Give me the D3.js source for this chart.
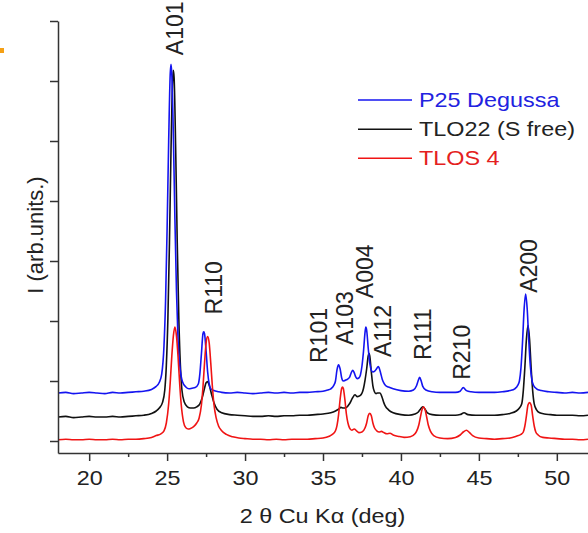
<!DOCTYPE html>
<html>
<head>
<meta charset="utf-8">
<script src="https://cdn.jsdelivr.net/npm/d3@7"></script>
<style>
  html, body { margin: 0; padding: 0; background: #fff; }
  svg { display: block; }
  text { font-family: "Liberation Sans", Arial, Helvetica, sans-serif; }
</style>
</head>
<body>
<svg id="chart" width="588" height="533"></svg>
<script>
// XRD patterns: [2θ (deg), intensity (arb. units)]
const p25Degussa = [
  [18.0,0.80],[18.5,0.81],[19.0,0.79],[19.5,0.80],[20.0,0.81],[20.5,0.80],[21.0,0.79],[21.5,0.81],
  [22.0,0.80],[22.5,0.81],[23.0,0.82],[23.5,0.83],[24.0,0.86],[24.3,0.91],[24.5,0.98],[24.65,1.11],
  [24.8,1.59],[24.9,2.33],[25.0,3.54],[25.1,5.00],[25.2,6.12],[25.25,6.28],[25.3,6.12],[25.4,5.10],
  [25.5,3.70],[25.6,2.50],[25.7,1.70],[25.8,1.30],[25.9,1.08],[26.0,0.98],[26.2,0.90],[26.4,0.87],
  [26.6,0.88],[26.8,0.89],[27.0,0.95],[27.1,1.12],[27.2,1.45],[27.3,1.79],[27.35,1.82],[27.4,1.79],
  [27.5,1.50],[27.6,1.15],[27.7,0.95],[27.8,0.87],[28.0,0.84],[28.3,0.82],[28.5,0.81],[29.0,0.80],
  [29.5,0.81],[30.0,0.80],[30.5,0.79],[31.0,0.80],[31.5,0.81],[32.0,0.80],[32.5,0.81],[33.0,0.80],
  [33.5,0.81],[34.0,0.81],[34.5,0.82],[35.0,0.83],[35.3,0.85],[35.5,0.87],[35.7,0.93],[35.8,1.00],
  [35.9,1.19],[36.0,1.27],[36.1,1.20],[36.2,1.05],[36.3,1.00],[36.5,1.02],[36.7,1.06],[36.8,1.13],
  [36.9,1.18],[37.0,1.14],[37.1,1.07],[37.2,1.04],[37.3,1.05],[37.4,1.10],[37.5,1.25],[37.6,1.50],
  [37.7,1.82],[37.75,1.90],[37.8,1.85],[37.9,1.55],[38.0,1.30],[38.1,1.18],[38.2,1.15],[38.3,1.16],
  [38.4,1.19],[38.5,1.23],[38.55,1.24],[38.6,1.22],[38.7,1.13],[38.8,1.03],[38.9,0.97],[39.0,0.93],
  [39.2,0.90],[39.5,0.87],[40.0,0.84],[40.5,0.83],[40.8,0.85],[41.0,0.92],[41.1,1.00],[41.2,1.06],
  [41.3,1.00],[41.4,0.91],[41.6,0.85],[42.0,0.82],[42.5,0.81],[43.0,0.81],[43.5,0.81],[43.8,0.83],
  [44.0,0.89],[44.2,0.84],[44.5,0.82],[45.0,0.81],[45.5,0.81],[46.0,0.81],[46.5,0.82],[47.0,0.84],
  [47.3,0.87],[47.5,0.93],[47.6,1.00],[47.7,1.22],[47.8,1.65],[47.9,2.19],[48.0,2.45],[48.1,2.20],
  [48.2,1.68],[48.3,1.25],[48.4,1.02],[48.5,0.93],[48.7,0.87],[49.0,0.84],[49.5,0.82],[50.0,0.81],
  [50.5,0.80],[51.0,0.81],[51.5,0.80],[52.0,0.81]
];

const tlo22 = [
  [18.0,0.40],[18.5,0.41],[19.0,0.39],[19.5,0.40],[20.0,0.41],[20.5,0.40],[21.0,0.40],[21.5,0.41],
  [22.0,0.40],[22.5,0.41],[23.0,0.42],[23.5,0.43],[24.0,0.46],[24.3,0.50],[24.5,0.55],[24.7,0.64],
  [24.85,0.85],[24.95,1.26],[25.05,2.04],[25.15,3.30],[25.25,4.85],[25.35,6.00],[25.4,6.18],[25.45,6.05],
  [25.55,4.85],[25.65,3.30],[25.75,2.05],[25.85,1.27],[25.95,0.85],[26.1,0.65],[26.3,0.57],[26.5,0.55],
  [26.7,0.55],[26.9,0.57],[27.1,0.62],[27.25,0.72],[27.4,0.88],[27.5,0.97],[27.6,0.99],[27.7,0.93],
  [27.85,0.78],[28.0,0.64],[28.2,0.53],[28.5,0.47],[29.0,0.44],[29.5,0.43],[30.0,0.42],[30.5,0.41],
  [31.0,0.41],[31.5,0.42],[32.0,0.41],[32.5,0.42],[33.0,0.42],[33.5,0.43],[34.0,0.43],[34.5,0.44],
  [35.0,0.45],[35.5,0.47],[35.8,0.50],[36.0,0.53],[36.15,0.56],[36.3,0.55],[36.5,0.56],[36.7,0.62],
  [36.9,0.72],[37.05,0.77],[37.2,0.74],[37.4,0.76],[37.6,0.88],[37.7,1.02],[37.8,1.20],[37.9,1.42],
  [37.95,1.46],[38.0,1.42],[38.1,1.15],[38.2,0.92],[38.3,0.82],[38.4,0.79],[38.5,0.80],[38.65,0.80],
  [38.8,0.72],[38.9,0.64],[39.0,0.58],[39.2,0.52],[39.5,0.47],[40.0,0.44],[40.5,0.43],[40.9,0.45],
  [41.1,0.48],[41.25,0.53],[41.4,0.57],[41.55,0.53],[41.7,0.47],[42.0,0.44],[42.5,0.43],[43.0,0.43],
  [43.5,0.43],[43.8,0.44],[44.05,0.47],[44.3,0.44],[44.8,0.43],[45.5,0.43],[46.0,0.43],[46.5,0.44],
  [47.0,0.46],[47.4,0.50],[47.6,0.55],[47.75,0.62],[47.85,0.84],[47.95,1.23],[48.05,1.70],[48.15,1.93],
  [48.25,1.70],[48.35,1.23],[48.45,0.84],[48.55,0.62],[48.7,0.52],[48.9,0.47],[49.2,0.45],[49.6,0.44],
  [50.0,0.43],[50.5,0.43],[51.0,0.43],[51.5,0.42],[52.0,0.43]
];

const tlos4 = [
  [18.0,0.02],[18.5,0.03],[19.0,0.02],[19.5,0.02],[20.0,0.03],[20.5,0.02],[21.0,0.02],[21.5,0.03],
  [22.0,0.02],[22.5,0.03],[23.0,0.03],[23.5,0.04],[24.0,0.06],[24.3,0.09],[24.6,0.12],[24.8,0.17],
  [24.95,0.30],[25.1,0.62],[25.2,0.98],[25.3,1.41],[25.4,1.75],[25.5,1.90],[25.6,1.75],[25.7,1.41],
  [25.8,0.98],[25.9,0.62],[26.05,0.32],[26.2,0.22],[26.35,0.20],[26.5,0.21],[26.7,0.24],[26.9,0.30],
  [27.05,0.38],[27.2,0.60],[27.3,0.90],[27.4,1.30],[27.5,1.63],[27.6,1.74],[27.7,1.63],[27.8,1.30],
  [27.9,0.92],[28.0,0.62],[28.15,0.38],[28.3,0.25],[28.5,0.17],[28.8,0.11],[29.2,0.07],[29.6,0.05],
  [30.0,0.04],[30.5,0.03],[31.0,0.03],[31.5,0.02],[32.0,0.03],[32.5,0.02],[33.0,0.03],[33.5,0.03],
  [34.0,0.03],[34.5,0.04],[35.0,0.05],[35.4,0.08],[35.6,0.11],[35.8,0.17],[35.9,0.26],[36.0,0.44],
  [36.1,0.70],[36.2,0.88],[36.25,0.90],[36.3,0.88],[36.4,0.70],[36.5,0.45],[36.6,0.30],[36.7,0.22],
  [36.85,0.18],[37.0,0.20],[37.15,0.17],[37.3,0.14],[37.5,0.15],[37.7,0.22],[37.8,0.30],[37.9,0.42],
  [38.0,0.46],[38.1,0.42],[38.2,0.30],[38.3,0.22],[38.45,0.17],[38.6,0.15],[38.75,0.16],[38.9,0.14],
  [39.1,0.12],[39.3,0.13],[39.5,0.10],[39.8,0.08],[40.2,0.06],[40.6,0.07],[40.9,0.12],[41.0,0.16],
  [41.15,0.27],[41.25,0.40],[41.35,0.52],[41.45,0.57],[41.55,0.52],[41.65,0.40],[41.75,0.27],[41.9,0.16],
  [42.1,0.09],[42.5,0.05],[43.0,0.04],[43.5,0.06],[43.8,0.10],[44.0,0.15],[44.2,0.18],[44.4,0.14],
  [44.6,0.09],[45.0,0.05],[45.5,0.04],[46.0,0.03],[46.5,0.04],[47.0,0.05],[47.4,0.08],[47.7,0.11],
  [47.85,0.15],[47.95,0.25],[48.05,0.42],[48.15,0.60],[48.25,0.64],[48.35,0.60],[48.45,0.42],[48.55,0.25],
  [48.65,0.15],[48.8,0.10],[49.1,0.06],[49.5,0.05],[50.0,0.04],[50.5,0.03],[51.0,0.03],[51.5,0.02],
  [52.0,0.03]
];

const seriesNames = ["P25 Degussa", "TLO22 (S free)", "TLOS 4"];
const xTicksMajor = [20, 25, 30, 35, 40, 45, 50];
const xTicksMinor = [22.5, 27.5, 32.5, 37.5, 42.5, 47.5];
const yTicks = [0, 1, 2, 3, 4, 5, 6, 7];

// Reflection labels with their anchor in (2θ, intensity) units
const reflectionNames = ["A101", "R110", "R101", "A103", "A004", "A112", "R111", "R210", "A200"];
const reflectionAnchors = [
  [26.02, 6.43], [28.49, 2.11], [35.26, 1.30], [36.92, 1.60], [38.21, 2.38],
  [39.39, 1.40], [41.90, 1.35], [44.43, 1.02], [48.70, 2.47]
];

// ---- drawing ----
const svg = d3.select("#chart");
const plotLeft = 58, plotRight = 588, plotTop = 21, plotBottom = 453;

const x = d3.scaleLinear().domain([18, 52]).range([plotLeft, plotRight]);
const y = d3.scaleLinear().domain([-0.2, 7]).range([plotBottom, plotTop]);

const colors = {
  blue: "#1414f0", black: "#111111", red: "#f01414",
  blueText: "#2222e0", redText: "#e42020", ink: "#222222", axis: "#333333"
};

svg.append("defs").append("clipPath").attr("id", "plotClip")
  .append("rect").attr("x", plotLeft).attr("y", 0)
  .attr("width", plotRight - plotLeft).attr("height", plotBottom);

// small orange marker at the left edge
svg.append("rect").attr("x", 0).attr("y", 48).attr("width", 4).attr("height", 5).attr("fill", "#f5a015");

const line = d3.line()
  .x(d => x(d[0]))
  .y(d => y(d[1]))
  .curve(d3.curveMonotoneX);

const plot = svg.append("g").attr("clip-path", "url(#plotClip)");
[[tlo22, colors.black], [p25Degussa, colors.blue], [tlos4, colors.red]].forEach(([data, c]) => {
  plot.append("path")
    .datum(data)
    .attr("d", line)
    .attr("fill", "none")
    .attr("stroke", c)
    .attr("stroke-width", 1.6)
    .attr("stroke-linejoin", "round");
});

// x axis
const xAxis = svg.append("g").attr("transform", `translate(0,${plotBottom})`)
  .call(d3.axisBottom(x).tickValues(xTicksMajor).tickSize(8).tickSizeOuter(0).tickFormat(d3.format("d")));
svg.append("g").attr("transform", `translate(0,${plotBottom})`)
  .call(d3.axisBottom(x).tickValues(xTicksMinor).tickSize(4).tickSizeOuter(0).tickFormat(""))
  .call(g => g.select(".domain").remove());

xAxis.selectAll("text")
  .attr("y", null).attr("dy", null)
  .attr("transform", "translate(0,32) scale(1.17,1)")
  .attr("font-size", 20)
  .attr("font-family", "'Liberation Sans', Arial, sans-serif")
  .attr("fill", colors.ink);

// y axis
svg.append("g").attr("transform", `translate(${plotLeft},0)`)
  .call(d3.axisLeft(y).tickValues(yTicks).tickSize(8).tickSizeOuter(0).tickFormat(""));

svg.selectAll(".domain").attr("stroke", colors.axis).attr("stroke-width", 1.5);
svg.selectAll(".tick line").attr("stroke", colors.axis).attr("stroke-width", 1.5);

// axis titles
svg.append("text")
  .attr("transform", "translate(322.5,523) scale(1.17,1)")
  .attr("text-anchor", "middle")
  .attr("font-size", 20)
  .attr("fill", colors.ink)
  .text("2 θ Cu Kα (deg)");

svg.append("text")
  .attr("transform", "translate(43,235) rotate(-90)")
  .attr("text-anchor", "middle")
  .attr("font-size", 22)
  .attr("fill", colors.ink)
  .text("I (arb.units.)");

// reflection labels
svg.append("g").selectAll("text")
  .data(reflectionNames)
  .join("text")
  .attr("transform", (d, i) => `translate(${x(reflectionAnchors[i][0])},${y(reflectionAnchors[i][1])}) rotate(-90)`)
  .attr("text-anchor", "start")
  .attr("font-size", 23)
  .attr("fill", colors.ink)
  .text(d => d);

// legend
const legendColors = [colors.blue, colors.black, colors.red];
const legendTextColors = [colors.blueText, colors.ink, colors.redText];
const legendY = [100, 129.3, 158.3];
const legend = svg.append("g");
seriesNames.forEach((name, i) => {
  legend.append("line")
    .attr("x1", 358).attr("x2", 412)
    .attr("y1", legendY[i]).attr("y2", legendY[i])
    .attr("stroke", legendColors[i]).attr("stroke-width", 1.6);
  legend.append("text")
    .attr("transform", `translate(419,${legendY[i] + 7}) scale(1.17,1)`)
    .attr("font-size", 20)
    .attr("fill", legendTextColors[i])
    .text(name);
});
</script>
</body>
</html>
